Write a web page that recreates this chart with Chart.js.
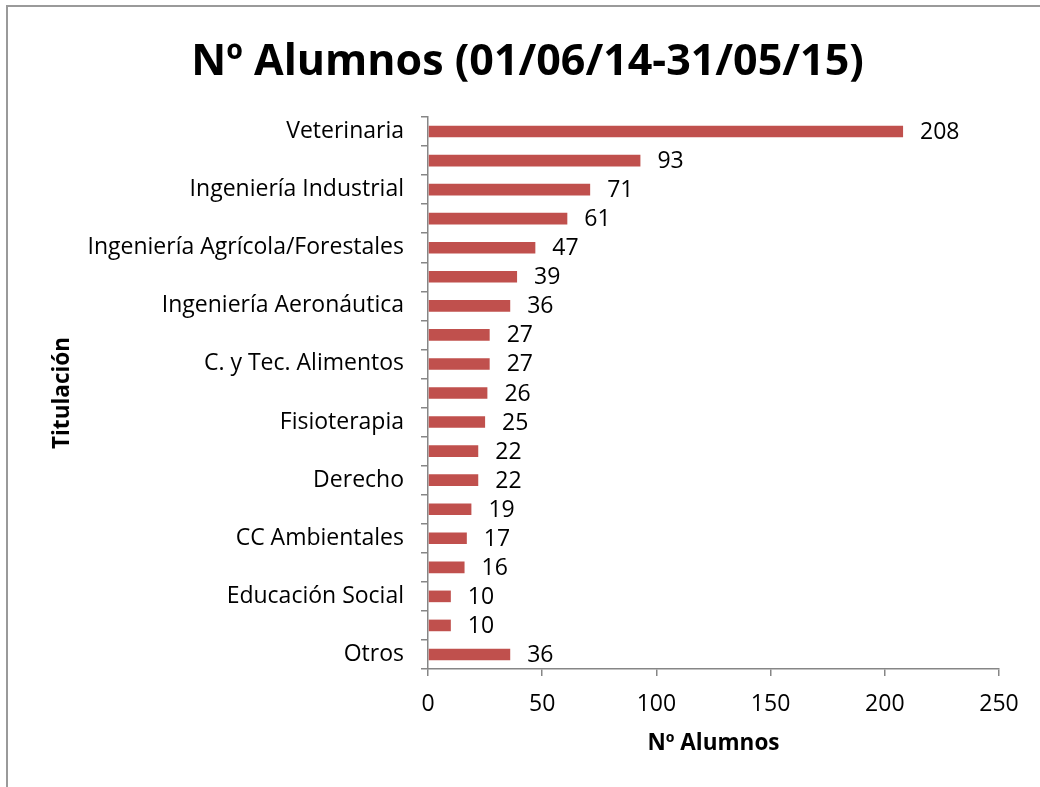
<!DOCTYPE html>
<html>
<head>
<meta charset="utf-8">
<script src="https://cdn.jsdelivr.net/npm/chart.js@4.4.0/dist/chart.umd.min.js"></script>
<style>
  html, body { margin: 0; padding: 0; background: #fff; }
  #wrap { width: 1040px; height: 787px; position: relative; }
</style>
</head>
<body>
<div id="wrap"><canvas id="c" width="1040" height="787"></canvas></div>
<script>
const chartTitle = 'Nº Alumnos (01/06/14-31/05/15)';
const xAxisTitle = 'Nº Alumnos';
const yAxisTitle = 'Titulación';
const categories = [
  'Veterinaria', '', 'Ingeniería Industrial', '', 'Ingeniería Agrícola/Forestales', '',
  'Ingeniería Aeronáutica', '', 'C. y Tec. Alimentos', '', 'Fisioterapia', '',
  'Derecho', '', 'CC Ambientales', '', 'Educación Social', '', 'Otros'
];
const alumnos = [208, 93, 71, 61, 47, 39, 36, 27, 27, 26, 25, 22, 22, 19, 17, 16, 10, 10, 36];
const xTicks = [0, 50, 100, 150, 200, 250];

const FONT = "'Open Sans', 'DejaVu Sans', sans-serif";
const AXIS_COLOR = '#868686';

const framePlugin = {
  id: 'frame',
  beforeDraw(chart) {
    const ctx = chart.ctx;
    ctx.save();
    ctx.fillStyle = '#ffffff';
    ctx.fillRect(0, 0, chart.width, chart.height);
    ctx.strokeStyle = '#9a9a9a';
    ctx.lineWidth = 2;
    ctx.beginPath();
    ctx.moveTo(7, chart.height);
    ctx.lineTo(7, 6);
    ctx.lineTo(chart.width, 6);
    ctx.stroke();
    // chart title, centred over the framed area
    ctx.font = 'bold 43px ' + FONT;
    ctx.fillStyle = '#000';
    ctx.textAlign = 'center';
    ctx.textBaseline = 'middle';
    ctx.fillText(chartTitle, 527.5, 63);
    ctx.restore();
  }
};

const valueLabels = {
  id: 'valueLabels',
  afterDatasetsDraw(chart) {
    const ctx = chart.ctx;
    const meta = chart.getDatasetMeta(0);
    ctx.save();
    ctx.font = '23px ' + FONT;
    ctx.fillStyle = '#000';
    ctx.textAlign = 'left';
    ctx.textBaseline = 'middle';
    meta.data.forEach((bar, i) => {
      ctx.fillText(String(chart.data.datasets[0].data[i]), bar.x + 17, bar.y + 1);
    });
    ctx.restore();
  }
};

new Chart(document.getElementById('c'), {
  type: 'bar',
  data: {
    labels: categories,
    datasets: [{
      data: alumnos,
      backgroundColor: '#C0504D',
      borderWidth: 0,
      categoryPercentage: 1,
      barPercentage: 0.4
    }]
  },
  plugins: [framePlugin, valueLabels],
  options: {
    indexAxis: 'y',
    responsive: false,
    animation: false,
    layout: { padding: { left: 0, right: 41, top: 117, bottom: 0 } },
    plugins: {
      legend: { display: false },
      tooltip: { enabled: false },
      title: { display: false }
    },
    scales: {
      y: {
        type: 'category',
        afterFit(scale) { scale.width = 428; },
        grid: { display: true, drawOnChartArea: false, drawTicks: true, tickLength: 7, color: AXIS_COLOR, lineWidth: 1.5, offset: true },
        border: { display: true, color: AXIS_COLOR, width: 1.5 },
        ticks: { autoSkip: false, color: '#000', padding: 17, font: { family: FONT, size: 23 } },
        title: { display: true, text: yAxisTitle, color: '#000', font: { family: FONT, size: 22.5, weight: 'bold' }, padding: { top: 49.5, bottom: 0 } }
      },
      x: {
        type: 'linear',
        min: xTicks[0],
        max: xTicks[xTicks.length - 1],
        afterFit(scale) { scale.height = 118; },
        afterBuildTicks(scale) { scale.ticks = xTicks.map(v => ({ value: v })); },
        grid: { display: true, drawOnChartArea: false, drawTicks: true, tickLength: 7, color: AXIS_COLOR, lineWidth: 1.5 },
        border: { display: true, color: AXIS_COLOR, width: 1.5 },
        ticks: { color: '#000', padding: 15, font: { family: FONT, size: 23 } },
        title: { display: true, text: xAxisTitle, color: '#000', font: { family: FONT, size: 22.5, weight: 'bold' }, padding: { top: 0, bottom: 29.5 } }
      }
    }
  }
});
</script>
</body>
</html>
